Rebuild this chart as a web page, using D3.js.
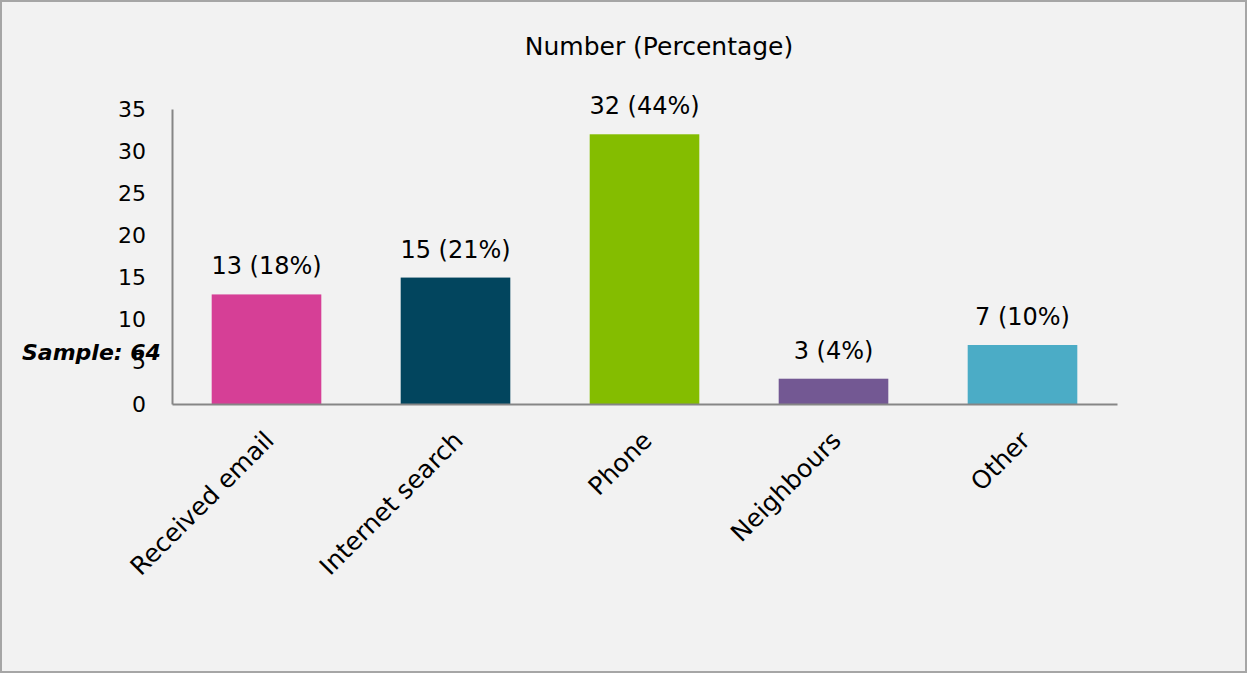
<!DOCTYPE html>
<html>
<head>
<meta charset="utf-8">
<script src="https://cdn.jsdelivr.net/npm/d3@7"></script>
<style>
  body { margin: 0; background: #fff; }
  svg { display: block; }
  text { font-family: "DejaVu Sans", Verdana, sans-serif; fill: #000; }
</style>
</head>
<body>
<div class="graph"></div>
<script>
// chart data
var categories = ["Received email", "Internet search", "Phone", "Neighbours", "Other"];
var counts = [13, 15, 32, 3, 7];
var percentLabels = ["18%", "21%", "44%", "4%", "10%"];
var barColors = ["#d63f96", "#02455e", "#84bd00", "#735893", "#4bacc6"];
var yTicks = [0, 5, 10, 15, 20, 25, 30, 35];

var width = 1247, height = 673;
var margin = {top: 109, right: 130, bottom: 269, left: 172};

var svg = d3.select("div.graph").append("svg")
    .attr("width", width)
    .attr("height", height);

// background + frame
svg.append("rect")
    .attr("x", 1).attr("y", 1)
    .attr("width", width - 2).attr("height", height - 2)
    .attr("fill", "#f2f2f2")
    .attr("stroke", "#a6a6a6")
    .attr("stroke-width", 2);

var x = d3.scaleBand()
    .domain(categories)
    .range([margin.left, width - margin.right])
    .paddingInner(0.42)
    .paddingOuter(0.21);

var y = d3.scaleLinear()
    .domain([0, 35])
    .range([height - margin.bottom, margin.top]);

// title
svg.append("text")
    .attr("x", 659).attr("y", 55)
    .attr("text-anchor", "middle")
    .style("font-size", "25px")
    .text("Number (Percentage)");

// bars
svg.selectAll("rect.bar")
    .data(counts)
    .enter().append("rect")
      .attr("class", "bar")
      .attr("x", function(d, i) { return x(categories[i]); })
      .attr("y", function(d) { return y(d); })
      .attr("width", x.bandwidth())
      .attr("height", function(d) { return y(0) - y(d); })
      .attr("fill", function(d, i) { return barColors[i]; });

// value labels
svg.selectAll("text.val")
    .data(counts)
    .enter().append("text")
      .attr("class", "val")
      .attr("x", function(d, i) { return x(categories[i]) + x.bandwidth() / 2; })
      .attr("y", function(d) { return y(d) - 20; })
      .attr("text-anchor", "middle")
      .style("font-size", "24px")
      .text(function(d, i) { return d + " (" + percentLabels[i] + ")"; });

// y axis
var yAxis = svg.append("g")
    .attr("class", "y-axis")
    .attr("transform", "translate(" + margin.left + ",0)")
    .call(d3.axisLeft(y).tickValues(yTicks).tickSize(0).tickPadding(26));
yAxis.select(".domain").attr("stroke", "#868686").attr("stroke-width", 2);
yAxis.selectAll("text").style("font-size", "22px");

// x axis
var xAxis = svg.append("g")
    .attr("class", "x-axis")
    .attr("transform", "translate(0," + y(0) + ")")
    .call(d3.axisBottom(x).tickSize(0).tickPadding(0));
xAxis.select(".domain").attr("stroke", "#868686").attr("stroke-width", 2);
xAxis.selectAll("text")
    .style("font-size", "25px")
    .attr("text-anchor", "end")
    .attr("dy", null)
    .attr("y", null)
    .attr("transform", "translate(9,38) rotate(-45)");

// sample note
svg.append("text")
    .attr("x", 22).attr("y", 360)
    .style("font-size", "22px")
    .style("font-style", "italic")
    .style("font-weight", "bold")
    .text("Sample: 64");
</script>
</body>
</html>
